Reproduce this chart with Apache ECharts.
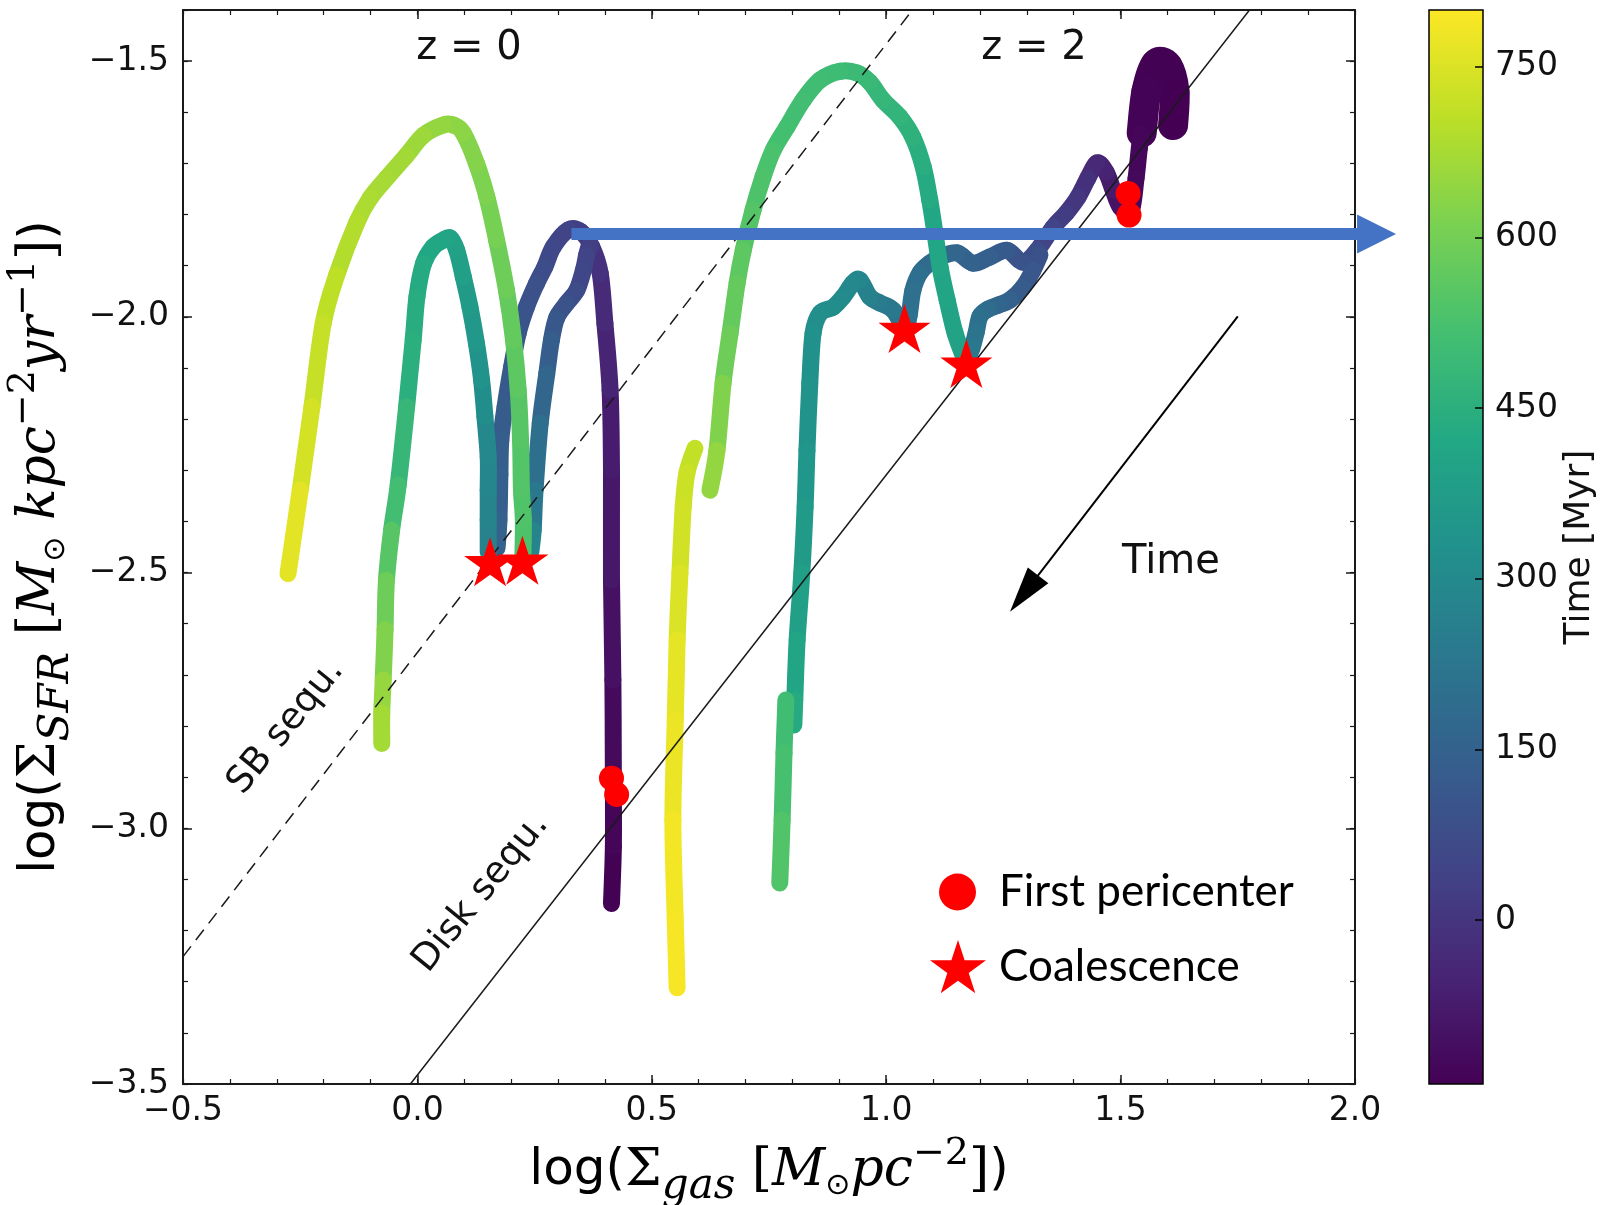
<!DOCTYPE html>
<html>
<head>
<meta charset="utf-8">
<title>Merger tracks in the Kennicutt-Schmidt plane</title>
<script src="https://cdn.jsdelivr.net/npm/echarts@6/dist/echarts.min.js"></script>
<style>
  html, body { margin: 0; padding: 0; background: #fff; }
  #chart { width: 1600px; height: 1205px; }
</style>
</head>
<body>
<div id="chart"></div>
<script>
// axis ticks
const X_TICKS = [-0.5, 0.0, 0.5, 1.0, 1.5, 2.0];
const Y_TICKS = [-3.5, -3.0, -2.5, -2.0, -1.5];
const TIME_TICKS = [0, 150, 300, 450, 600, 750];
const TIME_RANGE = [-144, 800];

// viridis colour stops
const VIRIDIS = ['#440154', '#482475', '#414487', '#355f8d', '#2a788e', '#21918c',
  '#22a884', '#44bf70', '#7ad151', '#bddf26', '#fde725'];

// tracks: [log Σgas, log ΣSFR, time in Myr]
const TRACK_Z0_RISE = [[0.414, -3.147, -140], [0.418, -3.036, -130], [0.418, -2.906, -120], [0.417, -2.710, -100],
  [0.414, -2.515, -85], [0.414, -2.300, -70], [0.411, -2.143, -50], [0.400, -2.013, -30], [0.390, -1.915, -10],
  [0.372, -1.863, 15], [0.348, -1.833, 30], [0.322, -1.830, 45], [0.290, -1.863, 60], [0.272, -1.902, 75],
  [0.254, -1.935, 88], [0.233, -1.980, 100], [0.215, -2.032, 110], [0.201, -2.098, 120], [0.187, -2.176, 130],
  [0.178, -2.241, 137], [0.176, -2.309, 143], [0.174, -2.397, 150], [0.170, -2.452, 155]];
const TRACK_Z0_FALL = [[0.368, -1.856, 30], [0.361, -1.879, 45], [0.354, -1.909, 55], [0.340, -1.948, 75],
  [0.318, -1.974, 95], [0.297, -2.002, 115], [0.286, -2.045, 135], [0.276, -2.111, 165], [0.262, -2.208, 200],
  [0.251, -2.339, 235], [0.247, -2.417, 280], [0.242, -2.460, 320]];
const TRACK_Z0_TEAL = [[0.151, -2.460, 270], [0.151, -2.397, 278], [0.151, -2.339, 285], [0.151, -2.274, 295],
  [0.144, -2.195, 315], [0.137, -2.124, 335], [0.126, -2.052, 355], [0.112, -1.980, 370], [0.098, -1.922, 385],
  [0.084, -1.870, 395], [0.070, -1.846, 400], [0.055, -1.850, 410], [0.033, -1.864, 420], [0.013, -1.896, 430],
  [-0.001, -1.961, 440], [-0.009, -2.045, 450], [-0.023, -2.176, 480], [-0.041, -2.329, 510], [-0.055, -2.417, 550],
  [-0.066, -2.515, 590], [-0.069, -2.612, 620], [-0.073, -2.710, 650], [-0.076, -2.775, 670], [-0.076, -2.834, 695]];
const TRACK_Z0_LATE = [[0.225, -2.468, 535], [0.226, -2.397, 538], [0.222, -2.339, 543], [0.220, -2.241, 550],
  [0.215, -2.143, 560], [0.205, -2.045, 572], [0.190, -1.948, 590], [0.169, -1.850, 605], [0.148, -1.765, 615],
  [0.126, -1.700, 625], [0.098, -1.641, 635], [0.077, -1.625, 640], [0.055, -1.625, 648], [0.013, -1.645, 660],
  [-0.023, -1.684, 668], [-0.066, -1.729, 675], [-0.101, -1.768, 682], [-0.129, -1.815, 690], [-0.172, -1.918, 705],
  [-0.201, -2.013, 718], [-0.225, -2.176, 740], [-0.250, -2.339, 762], [-0.276, -2.502, 785]];

// z = 2: dense early clump, then the band down to the first coalescence
const TRACK_Z2_CORE = [[1.612, -1.625, -144], [1.615, -1.560, -143], [1.600, -1.510, -142], [1.575, -1.506, -141],
  [1.555, -1.560, -139], [1.545, -1.640, -132]];
const TRACK_Z2_BAND = [[1.545, -1.640, -132], [1.540, -1.670, -128], [1.533, -1.729, -122], [1.522, -1.795, -115],
  [1.499, -1.785, -95], [1.484, -1.752, -75], [1.469, -1.717, -55], [1.450, -1.699, -35], [1.430, -1.729, -15],
  [1.409, -1.766, 5], [1.384, -1.797, 25], [1.356, -1.825, 45], [1.322, -1.870, 75], [1.292, -1.893, 100],
  [1.258, -1.870, 120], [1.221, -1.883, 140], [1.185, -1.895, 155], [1.151, -1.875, 165], [1.115, -1.883, 175],
  [1.093, -1.895, 185], [1.072, -1.914, 195], [1.057, -1.948, 202], [1.049, -1.997, 210], [1.040, -2.022, 215],
  [1.015, -1.987, 233], [0.987, -1.973, 250], [0.965, -1.961, 268], [0.944, -1.928, 288], [0.929, -1.934, 295],
  [0.908, -1.961, 305], [0.887, -1.981, 315], [0.859, -1.993, 322], [0.844, -2.032, 328], [0.837, -2.130, 335],
  [0.831, -2.261, 350], [0.827, -2.372, 370], [0.820, -2.501, 390], [0.810, -2.632, 410], [0.805, -2.749, 430],
  [0.803, -2.798, 440]];
const TRACK_Z2_LOOP = [[1.328, -1.879, 90], [1.313, -1.909, 110], [1.292, -1.942, 130], [1.264, -1.967, 150],
  [1.239, -1.977, 170], [1.217, -1.985, 190], [1.200, -1.999, 205], [1.192, -2.030, 220], [1.183, -2.061, 235],
  [1.172, -2.085, 250]];
const TRACK_Z2_TAIL = [[0.786, -2.749, 505], [0.782, -2.853, 520], [0.778, -2.984, 540], [0.773, -3.107, 560]];
const TRACK_Z2_ARC = [[1.164, -2.075, 393], [1.147, -2.032, 400], [1.130, -1.967, 410], [1.115, -1.903, 415],
  [1.104, -1.836, 420], [1.093, -1.772, 430], [1.079, -1.707, 445], [1.057, -1.649, 459], [1.029, -1.609, 470],
  [0.993, -1.576, 478], [0.965, -1.541, 488], [0.938, -1.523, 495], [0.901, -1.520, 500], [0.859, -1.537, 505],
  [0.823, -1.576, 510], [0.788, -1.629, 515], [0.759, -1.674, 525], [0.737, -1.727, 535], [0.716, -1.791, 545],
  [0.695, -1.870, 560], [0.682, -1.934, 575], [0.667, -2.032, 590], [0.652, -2.130, 620], [0.639, -2.261, 647],
  [0.624, -2.339, 665]];
const TRACK_Z2_LATE = [[0.592, -2.257, 713], [0.575, -2.305, 725], [0.567, -2.372, 735], [0.560, -2.501, 750],
  [0.554, -2.632, 765], [0.550, -2.788, 775], [0.545, -2.984, 785], [0.550, -3.179, 790], [0.554, -3.312, 795]];

// events
const PERICENTER = [[0.414, -2.902], [0.425, -2.934], [1.516, -1.759], [1.518, -1.801]];
const COALESCENCE = [[0.155, -2.479], [0.224, -2.476], [1.039, -2.023], [1.171, -2.091]];

// sequences and arrows, in axis units
const SB_SEQUENCE = [[-0.5, -3.251], [1.056, -1.4]];
const DISK_SEQUENCE = [[-0.015, -3.5], [1.775, -1.4]];
const COLORBAR_POINTER = [[0.3285, -1.838], [2.046, -1.838]];
const TIME_ARROW = [[1.750, -1.999], [1.294, -2.541]];

const STAR = 'path://M0,-100L22.45,-30.9L95.1,-30.9L36.3,11.8L58.8,80.9L0,38.2L-58.8,80.9L-36.3,11.8L-95.1,-30.9L-22.45,-30.9Z';
const INK = '#1a1a1a';
const fmt = v => v.toFixed(1).replace('-', '\u2212');

const MATH_RICH = {
  a: { fontFamily: 'DejaVu Sans', fontSize: 50, color: '#000' },
  u: { fontFamily: 'DejaVu Serif', fontSize: 52, color: '#000' },
  i: { fontFamily: 'DejaVu Serif', fontStyle: 'italic', fontSize: 52, color: '#000' },
  sb: { fontFamily: 'DejaVu Serif', fontStyle: 'italic', fontSize: 42, color: '#000', padding: [32, 0, 0, 0] },
  dot: { fontFamily: 'DejaVu Sans', fontSize: 30, color: '#000', padding: [30, 0, 0, 0] },
  sp: { fontFamily: 'DejaVu Serif', fontSize: 38, color: '#000', padding: [0, 0, 34, 0] },
};

const chart = echarts.init(document.getElementById('chart'));

// one custom series per track, drawn as smooth round-capped pieces between samples
const trackSeries = (name, pts, width = 17) => ({
  type: 'custom',
  name,
  coordinateSystem: 'cartesian2d',
  xAxisIndex: 0,
  yAxisIndex: 0,
  clip: true,
  silent: true,
  z: 2,
  encode: { x: 0, y: 1 },
  data: pts,
  renderItem: (params, api) => {
    const i = params.dataIndex;
    if (i >= pts.length - 1) return;
    const at = k => {
      const p = pts[Math.max(0, Math.min(pts.length - 1, k))];
      return api.coord([p[0], p[1]]);
    };
    const p0 = at(i - 1), p1 = at(i), p2 = at(i + 1), p3 = at(i + 2);
    return {
      type: 'bezierCurve',
      shape: {
        x1: p1[0], y1: p1[1], x2: p2[0], y2: p2[1],
        cpx1: p1[0] + (p2[0] - p0[0]) / 6, cpy1: p1[1] + (p2[1] - p0[1]) / 6,
        cpx2: p2[0] - (p3[0] - p1[0]) / 6, cpy2: p2[1] - (p3[1] - p1[1]) / 6,
      },
      style: { stroke: api.visual('color'), fill: 'none', lineWidth: width, lineCap: 'round' },
    };
  },
});

const tracks = [
  trackSeries('z0 rise', TRACK_Z0_RISE),
  trackSeries('z0 fall', TRACK_Z0_FALL),
  trackSeries('z0 teal', TRACK_Z0_TEAL),
  trackSeries('z0 late', TRACK_Z0_LATE),
  trackSeries('z2 core', TRACK_Z2_CORE, 30),
  trackSeries('z2 band', TRACK_Z2_BAND),
  trackSeries('z2 loop', TRACK_Z2_LOOP),
  trackSeries('z2 tail', TRACK_Z2_TAIL),
  trackSeries('z2 arc', TRACK_Z2_ARC),
  trackSeries('z2 late', TRACK_Z2_LATE),
];

const frameAxis = (position, extra) => Object.assign({
  gridIndex: 0,
  type: 'value',
  position,
  axisLine: { onZero: false, lineStyle: { color: INK, width: 2 } },
  axisTick: { inside: true, length: 9, lineStyle: { color: INK, width: 1.5 } },
  axisLabel: { show: false },
  splitLine: { show: false },
}, extra);

const minorAxis = (position, min, max) => ({
  gridIndex: 0,
  type: 'value',
  position,
  min,
  max,
  interval: 0.1,
  axisLine: { show: false, onZero: false },
  axisTick: { inside: true, length: 5, lineStyle: { color: INK, width: 1.2 } },
  axisLabel: { show: false },
  splitLine: { show: false },
});

const tickFont = { fontFamily: 'DejaVu Sans', fontSize: 33, color: '#111' };

const option = {
  animation: false,
  backgroundColor: '#fff',
  textStyle: { fontFamily: 'DejaVu Sans' },
  grid: [
    { left: 183, right: 245, top: 10, bottom: 121, outerBoundsMode: 'none' },
    { left: 1429, width: 54, top: 10, bottom: 121, outerBoundsMode: 'none' },
  ],
  visualMap: {
    type: 'continuous',
    show: false,
    min: TIME_RANGE[0],
    max: TIME_RANGE[1],
    dimension: 2,
    seriesIndex: tracks.map((_, i) => i),
    inRange: { color: VIRIDIS },
  },
  xAxis: [
    frameAxis('bottom', {
      min: -0.5, max: 2.0,
      axisTick: { inside: true, length: 9, customValues: X_TICKS, lineStyle: { color: INK, width: 1.5 } },
      axisLabel: { show: true, customValues: X_TICKS, formatter: fmt, margin: 11, ...tickFont },
      name: '{a|log(}{u|Σ}{sb|gas}{u| [}{i|M}{dot|⊙}{i|pc}{sp|−2}{u|]}{a|)}',
      nameLocation: 'middle',
      nameGap: 50,
      nameTextStyle: { rich: MATH_RICH },
    }),
    frameAxis('top', {
      min: -0.5, max: 2.0,
      axisTick: { inside: true, length: 9, customValues: X_TICKS, lineStyle: { color: INK, width: 1.5 } },
    }),
    minorAxis('bottom', -0.5, 2.0),
    minorAxis('top', -0.5, 2.0),
    { gridIndex: 1, type: 'value', min: 0, max: 1, show: false },
  ],
  yAxis: [
    frameAxis('left', {
      min: -3.5, max: -1.4,
      axisTick: { inside: true, length: 9, customValues: Y_TICKS, lineStyle: { color: INK, width: 1.5 } },
      axisLabel: { show: true, customValues: Y_TICKS, formatter: fmt, margin: 14, ...tickFont },
      name: '{a|log(}{u|Σ}{sb|SFR}{u| [}{i|M}{dot|⊙}{i| kpc}{sp|−2}{i|yr}{sp|−1}{u|]}{a|)}',
      nameLocation: 'middle',
      nameRotate: 90,
      nameGap: 104,
      nameTextStyle: { rich: MATH_RICH },
    }),
    frameAxis('right', {
      min: -3.5, max: -1.4,
      axisTick: { inside: true, length: 9, customValues: Y_TICKS, lineStyle: { color: INK, width: 1.5 } },
    }),
    minorAxis('left', -3.5, -1.4),
    minorAxis('right', -3.5, -1.4),
    {
      gridIndex: 1,
      type: 'value',
      position: 'right',
      min: TIME_RANGE[0],
      max: TIME_RANGE[1],
      z: 10,
      axisLine: { show: false, onZero: false },
      axisTick: { inside: true, length: 8, customValues: TIME_TICKS, lineStyle: { color: '#000', width: 1.5 } },
      axisLabel: { customValues: TIME_TICKS, margin: 12, ...tickFont },
      splitLine: { show: false },
      name: 'Time [Myr]',
      nameLocation: 'middle',
      nameRotate: 90,
      nameGap: 78,
      nameTextStyle: { fontFamily: 'DejaVu Sans', fontSize: 36, color: '#111' },
    },
  ],
  legend: [
    {
      data: [{ name: 'First pericenter', icon: 'circle' }],
      left: 939, top: 870, padding: 0,
      itemWidth: 37, itemHeight: 37,
      selectedMode: false,
      textStyle: { fontFamily: 'Lato', fontSize: 44, color: '#000', padding: [0, 0, 0, 18] },
    },
    {
      data: [{ name: 'Coalescence', icon: STAR }],
      left: 930, top: 940, padding: 0,
      itemWidth: 56, itemHeight: 58,
      selectedMode: false,
      textStyle: { fontFamily: 'Lato', fontSize: 44, color: '#000', padding: [0, 0, 0, 8] },
    },
  ],
  series: [
    ...tracks,
    {
      type: 'line', name: 'SB sequ.', data: SB_SEQUENCE, symbol: 'none', silent: true, z: 4,
      lineStyle: { color: INK, width: 1.5, type: [13, 8] },
    },
    {
      type: 'line', name: 'Disk sequ.', data: DISK_SEQUENCE, symbol: 'none', silent: true, z: 4,
      lineStyle: { color: INK, width: 1.5 },
    },
    {
      type: 'scatter', name: 'First pericenter', data: PERICENTER, symbol: 'circle', symbolSize: 25,
      silent: true, z: 6, itemStyle: { color: '#ff0000', opacity: 1 },
    },
    {
      type: 'scatter', name: 'Coalescence', data: COALESCENCE, symbol: STAR, symbolSize: [52, 49],
      silent: true, z: 6, itemStyle: { color: '#ff0000', opacity: 1 },
    },
    {
      type: 'lines', coordinateSystem: 'cartesian2d', clip: false, silent: true, z: 8,
      symbol: ['none', 'triangle'], symbolSize: [1, 39],
      lineStyle: { color: '#4472c4', width: 12, opacity: 1, curveness: 0 },
      data: [{ coords: COLORBAR_POINTER }],
    },
    {
      type: 'lines', coordinateSystem: 'cartesian2d', clip: false, silent: true, z: 8,
      symbol: ['none', 'triangle'], symbolSize: [1, [26, 46]],
      lineStyle: { color: '#000', width: 2, opacity: 1, curveness: 0 },
      data: [{ coords: TIME_ARROW }],
    },
    {
      // colour bar
      type: 'custom', name: 'colorbar', coordinateSystem: 'cartesian2d', xAxisIndex: 4, yAxisIndex: 4,
      silent: true, z: 1,
      dimensions: ['x0', 'y0', 'x1', 'y1'],
      encode: { x: [0, 2], y: [1, 3] },
      data: [[0, TIME_RANGE[0], 1, TIME_RANGE[1]]],
      renderItem: (params, api) => {
        const lo = api.coord([api.value(0), api.value(1)]);
        const hi = api.coord([api.value(2), api.value(3)]);
        const stops = VIRIDIS.map((c, i) => ({ offset: i / (VIRIDIS.length - 1), color: c }));
        return {
          type: 'rect',
          shape: { x: lo[0], y: hi[1], width: hi[0] - lo[0], height: lo[1] - hi[1] },
          style: { fill: new echarts.graphic.LinearGradient(0, 1, 0, 0, stops), stroke: '#000', lineWidth: 1.5 },
        };
      },
    },
  ],
  graphic: [
    { type: 'text', x: 469, y: 49, style: { text: 'z = 0', fontFamily: 'DejaVu Sans', fontSize: 40, fill: '#111', align: 'center', verticalAlign: 'middle' } },
    { type: 'text', x: 1034, y: 49, style: { text: 'z = 2', fontFamily: 'DejaVu Sans', fontSize: 40, fill: '#111', align: 'center', verticalAlign: 'middle' } },
    { type: 'text', x: 1171, y: 563, style: { text: 'Time', fontFamily: 'DejaVu Sans', fontSize: 40, fill: '#111', align: 'center', verticalAlign: 'middle' } },
    { type: 'text', x: 286, y: 727, rotation: 0.89, style: { text: 'SB sequ.', fontFamily: 'DejaVu Sans', fontSize: 37, fill: '#111', align: 'center', verticalAlign: 'middle' } },
    { type: 'text', x: 481, y: 893, rotation: 0.89, style: { text: 'Disk sequ.', fontFamily: 'DejaVu Sans', fontSize: 37, fill: '#111', align: 'center', verticalAlign: 'middle' } },
  ],
};

chart.setOption(option);
</script>
</body>
</html>
